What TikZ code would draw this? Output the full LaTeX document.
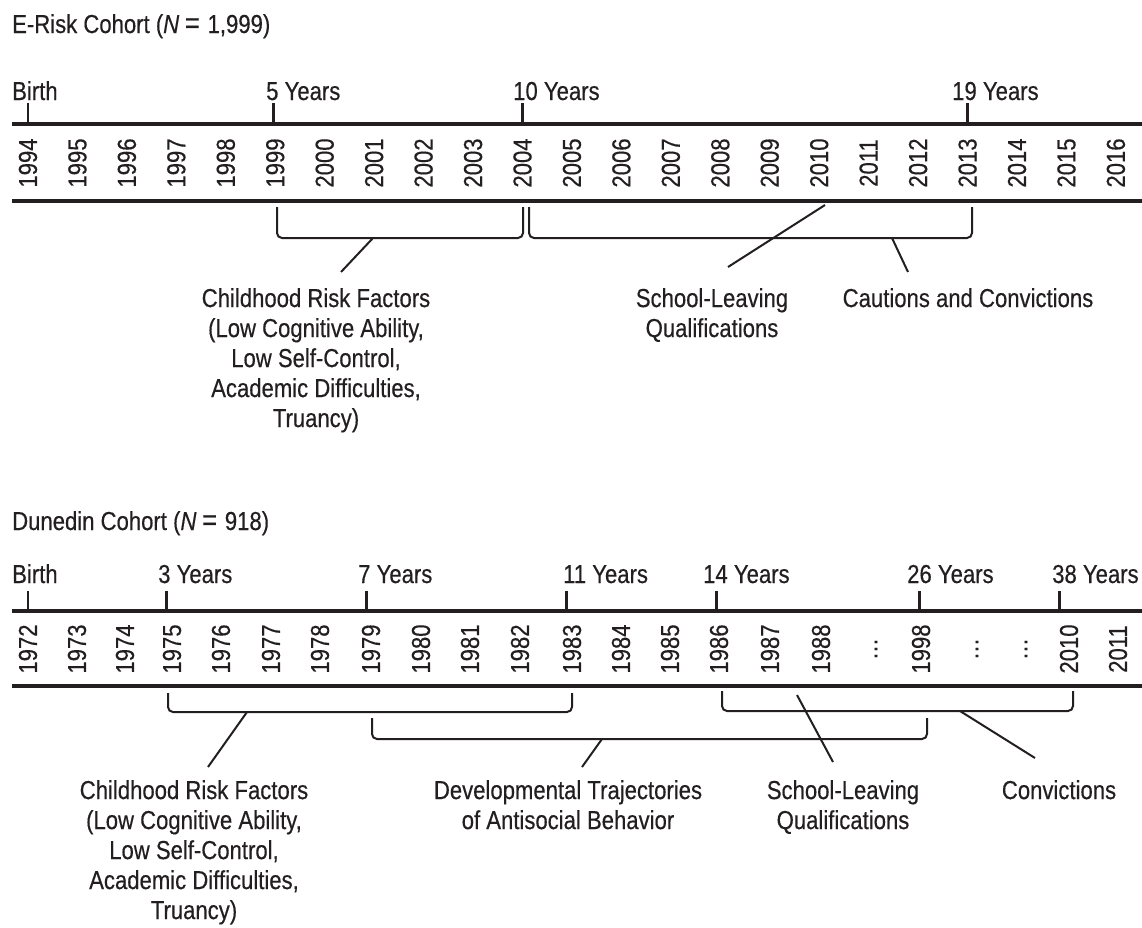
\documentclass[tikz,border=0pt]{standalone}
\usepackage{fontspec}
\setmainfont{Liberation Sans}[FakeStretch=0.85,FakeBold=0.4]
\definecolor{ink}{HTML}{231F20}
\begin{document}
\begin{tikzpicture}[x=1pt,y=-1pt,
  every node/.style={inner sep=0pt, font=\fontsize{26}{30}\selectfont, text=ink},
  axis/.style={line width=3.5pt, draw=ink},
  tickmark/.style={line width=3pt, draw=ink},
  thintick/.style={line width=1.5pt, draw=ink},
  bracket/.style={line width=2pt, draw=ink, rounded corners=5pt},
  pointer/.style={line width=2pt, draw=ink},
  year/.style={rotate=90, anchor=center},
  lbl/.style={align=center, anchor=north},
  agelbl/.style={anchor=base west},
  ]
\useasboundingbox (0,0) rectangle (1142,927);

% ---------------- E-Risk ----------------
\node[anchor=base west] (t1) at (12,33) {E-Risk Cohort (\textit{N}\hspace{0.22em}{\fontsize{30}{30}\selectfont =}\hspace{0.3em}1,999)};
\draw[axis] (12,124) -- (1142,124);
\draw[axis] (12,201) -- (1142,201);
\foreach \i in {0,...,22} {
  \pgfmathtruncatemacro\yr{1994+\i}
  \node[year] (u\yr) at ({28+49.45*\i},163) {\yr};
}
\node[agelbl] (ua0) at (12,100) {Birth};
\node[agelbl] (ua5) at (266,100) {5 Years};
\node[agelbl] (ua10) at (513,100) {10 Years};
\node[agelbl] (ua19) at (952,100) {19 Years};
\draw[thintick] (28,103) -- (28,124);
\draw[tickmark] (273,103) -- (273,124);
\draw[tickmark] (522,103) -- (522,124);
\draw[tickmark] (967,103) -- (967,124);

\draw[bracket] (277,207) -- (277,238) -- (523,238) -- (523,207);
\draw[bracket] (529,207) -- (529,238) -- (972,238) -- (972,207);

\node[lbl] (ucr) at (316,288) {Childhood Risk Factors\\(Low Cognitive Ability,\\Low Self-Control,\\Academic Difficulties,\\Truancy)};
\node[lbl] (usl) at (712,288) {School-Leaving\\Qualifications};
\node[lbl] (ucc) at (968,288) {Cautions and Convictions};

\coordinate (up1a) at (373,238); \coordinate (up1b) at (341,272);
\coordinate (up2a) at (825,205); \coordinate (up2b) at (728,267);
\coordinate (up3a) at (892,238); \coordinate (up3b) at (908,272);
\draw[pointer] (up1a) -- (up1b);
\draw[pointer] (up2a) -- (up2b);
\draw[pointer] (up3a) -- (up3b);

% ---------------- Dunedin ----------------
\node[anchor=base west] (t2) at (12,530) {Dunedin Cohort (\textit{N}\hspace{0.22em}{\fontsize{30}{30}\selectfont =}\hspace{0.3em}918)};
\draw[axis] (12,611) -- (1142,611);
\draw[axis] (12,686) -- (1142,686);
\foreach \x/\t [count=\k] in {28/1972,77/1973,125/1974,172/1975,221/1976,271/1977,320/1978,371/1979,421/1980,470/1981,520/1982,572/1983,621/1984,670/1985,719/1986,770/1987,821/1988,876/{…},921/1998,977/{…},1026/{…},1069/2010,1118/2011} {
  \node[year] (d\k) at (\x,649) {\t};
}
\node[agelbl] (da0) at (12,583) {Birth};
\node[agelbl] (da3) at (158,583) {3 Years};
\node[agelbl] (da7) at (358,583) {7 Years};
\node[agelbl] (da11) at (563,583) {11 Years};
\node[agelbl] (da14) at (703,583) {14 Years};
\node[agelbl] (da26) at (907,583) {26 Years};
\node[agelbl] (da38) at (1052,583) {38 Years};
\draw[thintick] (28,591) -- (28,611);
\draw[tickmark] (166,591) -- (166,611);
\draw[tickmark] (366,591) -- (366,611);
\draw[tickmark] (566,591) -- (566,611);
\draw[tickmark] (716,591) -- (716,611);
\draw[tickmark] (919,591) -- (919,611);
\draw[tickmark] (1059,591) -- (1059,611);

\draw[bracket] (168,693) -- (168,712) -- (572,712) -- (572,693);
\draw[bracket] (372,718) -- (372,739) -- (927,739) -- (927,718);
\draw[bracket] (722,691) -- (722,711) -- (1073,711) -- (1073,691);

\node[lbl] (dcr) at (194,780) {Childhood Risk Factors\\(Low Cognitive Ability,\\Low Self-Control,\\Academic Difficulties,\\Truancy)};
\node[lbl] (ddt) at (568,780) {Developmental Trajectories\\of Antisocial Behavior};
\node[lbl] (dsl) at (843,780) {School-Leaving\\Qualifications};
\node[lbl] (dcv) at (1059,780) {Convictions};

\coordinate (dp1a) at (247,712); \coordinate (dp1b) at (208,767);
\coordinate (dp2a) at (602,739); \coordinate (dp2b) at (582,767);
\coordinate (dp3a) at (797,695); \coordinate (dp3b) at (833,762);
\coordinate (dp4a) at (960,711); \coordinate (dp4b) at (1035,758);
\draw[pointer] (dp1a) -- (dp1b);
\draw[pointer] (dp2a) -- (dp2b);
\draw[pointer] (dp3a) -- (dp3b);
\draw[pointer] (dp4a) -- (dp4b);
\end{tikzpicture}
\end{document}
